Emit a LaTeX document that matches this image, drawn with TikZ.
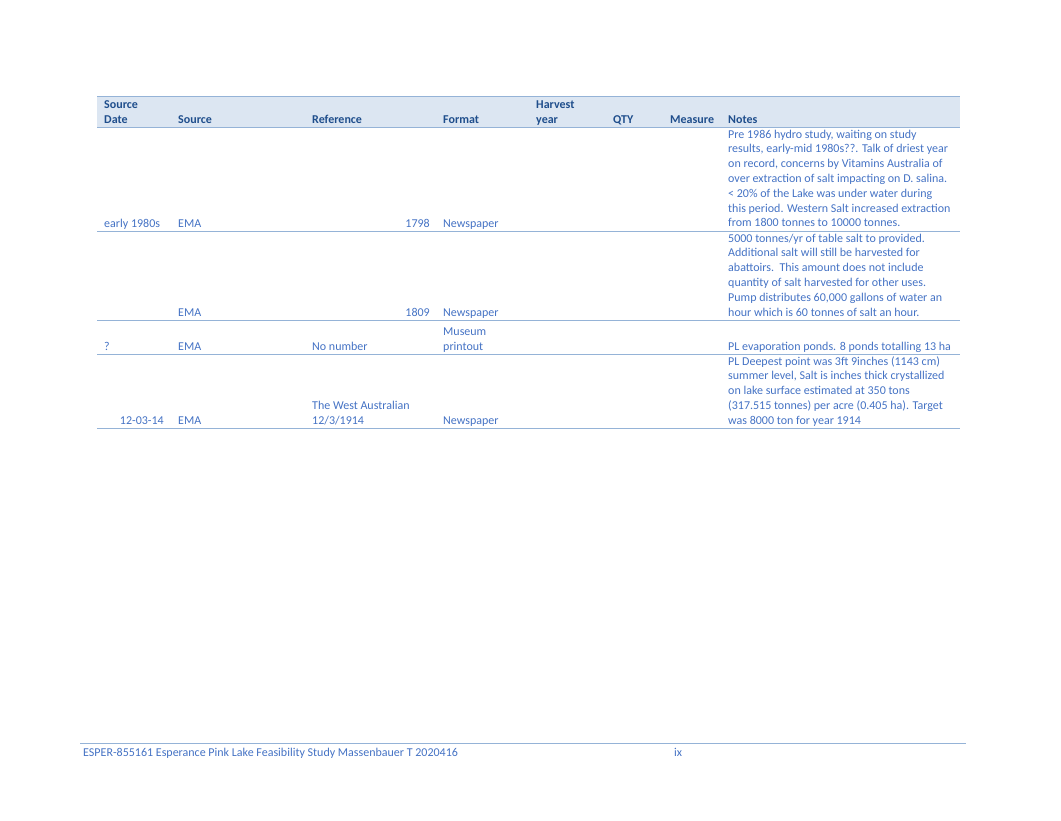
\documentclass[tikz,border=0pt]{standalone}
\usepackage{fontspec}
\setmainfont{Carlito}
\definecolor{hdblue}{HTML}{1F4E8C}
\definecolor{txblue}{HTML}{4472C4}
\definecolor{rule}{HTML}{95B3D7}
\definecolor{hdfill}{HTML}{DCE6F2}
\begin{document}
\begin{tikzpicture}[x=1pt,y=-1pt,
  txt/.style={anchor=base west,inner sep=0pt,text=txblue,font=\fontsize{12}{14}\selectfont},
  txtr/.style={txt,anchor=base east},
  hd/.style={txt,text=hdblue,font=\fontsize{12}{14}\selectfont\bfseries},
  rowline/.style={draw=rule,line width=0.8pt}]

  \useasboundingbox (0,0) rectangle (1061,820);

  %% header band
  \fill[hdfill] (97,96) rectangle (960,127);
  \draw[rowline] (97,96) -- (960,96);
  \draw[rowline] (97,127) -- (960,127);
  \node[hd] (hdate1) at (104,108) {Source};
  \node[hd] (hdate2) at (104,123) {Date};
  \node[hd] (hsrc) at (178,123) {Source};
  \node[hd] (href) at (312,123) {Reference};
  \node[hd] (hfmt) at (443,123) {Format};
  \node[hd] (hharv1) at (536,108) {Harvest};
  \node[hd] (hharv2) at (536,123) {year};
  \node[hd] (hqty) at (613,123) {QTY};
  \node[hd] (hmeas) at (670,123) {Measure};
  \node[hd] (hnotes) at (728,123) {Notes};

  %% row 1
  \foreach \t [count=\i from 0] in {{Pre 1986 hydro study, waiting on study},
      {results, early-mid 1980s??. Talk of driest year},
      {on record, concerns by Vitamins Australia of},
      over extraction of salt impacting on D. salina.,
      < 20\% of the Lake was under water during,
      this period. Western Salt increased extraction,
      from 1800 tonnes to 10000 tonnes.}
    \node[txt] (ra\i) at (728,138+14.8*\i) {\t};
  \node[txt] (radate) at (104,227) {early 1980s};
  \node[txt] (rasrc) at (178,227) {EMA};
  \node[txtr] (raref) at (430,227) {1798};
  \node[txt] (rafmt) at (443,227) {Newspaper};
  \draw[rowline] (97,231) -- (960,231);

  %% row 2
  \foreach \t [count=\i from 0] in {5000 tonnes/yr of table salt to provided.,
      Additional salt will still be harvested for,
      abattoirs.\ \ This amount does not include,
      quantity of salt harvested for other uses.,
      {Pump distributes 60,000 gallons of water an},
      hour which is 60 tonnes of salt an hour.}
    \node[txt] (rb\i) at (728,242+14.8*\i) {\t};
  \node[txt] (rbsrc) at (178,316) {EMA};
  \node[txtr] (rbref) at (430,316) {1809};
  \node[txt] (rbfmt) at (443,316) {Newspaper};
  \draw[rowline] (97,320) -- (960,320);

  %% row 3
  \node[txt] (rcdate) at (104,350) {?};
  \node[txt] (rcsrc) at (178,350) {EMA};
  \node[txt] (rcref) at (312,350) {No number};
  \node[txt] (rcfmt1) at (443,335) {Museum};
  \node[txt] (rcfmt2) at (443,350) {printout};
  \node[txt] (rcnote) at (728,350) {PL evaporation ponds. 8 ponds totalling 13 ha};
  \draw[rowline] (97,354) -- (960,354);

  %% row 4
  \foreach \t [count=\i from 0] in {PL Deepest point was 3ft 9inches (1143 cm),
      {summer level, Salt is inches thick crystallized},
      on lake surface estimated at 350 tons,
      (317.515 tonnes) per acre (0.405 ha). Target,
      was 8000 ton for year 1914}
    \node[txt] (rd\i) at (728,365+14.8*\i) {\t};
  \node[txtr] (rddate) at (164,424) {12-03-14};
  \node[txt] (rdsrc) at (178,424) {EMA};
  \node[txt] (rdref1) at (312,409) {The West Australian};
  \node[txt] (rdref2) at (312,424) {12/3/1914};
  \node[txt] (rdfmt) at (443,424) {Newspaper};
  \draw[rowline] (97,428) -- (960,428);

  %% footer
  \draw[rowline] (80,743) -- (966,743);
  \node[txt] (foot) at (83,756) {ESPER-855161 Esperance Pink Lake Feasibility Study Massenbauer T 2020416};
  \node[txt] (page) at (674,756) {ix};

\end{tikzpicture}
\end{document}
